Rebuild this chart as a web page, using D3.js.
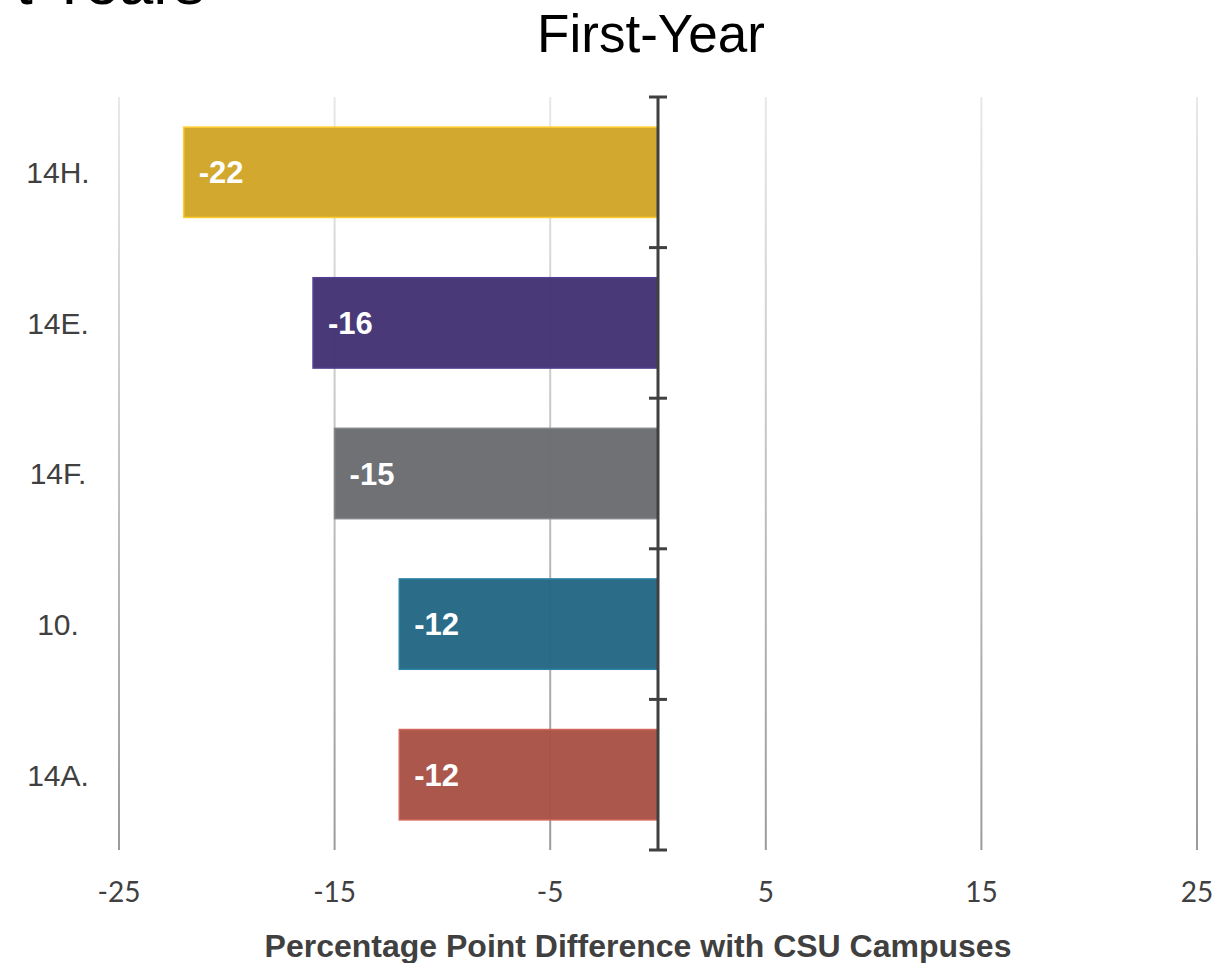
<!DOCTYPE html>
<html>
<head>
<meta charset="utf-8">
<script src="https://cdn.jsdelivr.net/npm/d3@7"></script>
<style>
  html, body { margin: 0; padding: 0; background: #fff; }
  svg { display: block; }
</style>
</head>
<body>
<div id="chart"></div>
<script>
// Data
const categories = ["14H.", "14E.", "14F.", "10.", "14A."];
const values = [-22, -16, -15, -12, -12];
const barColors = ["#D1A527", "#433375", "#6B6C6F", "#246885", "#A85246"];
const xTicks = [-25, -15, -5, 5, 15, 25];

// Configuration
const width = 1217;
const height = 963;
const margin = { top: 97, right: 20, bottom: 113, left: 119 };
const textColor = "#404040";

const svg = d3.select("#chart")
    .append("svg")
    .attr("width", width)
    .attr("height", height)
    .style("font-family", "'Liberation Sans', Arial, sans-serif");

// Gradient for gridlines (lighter at top)
const defs = svg.append("defs");
const grad = defs.append("linearGradient")
    .attr("id", "gridGrad")
    .attr("gradientUnits", "userSpaceOnUse")
    .attr("x1", 0).attr("x2", 0)
    .attr("y1", margin.top).attr("y2", height - margin.bottom);
grad.append("stop").attr("offset", "0%").attr("stop-color", "#e8e8e8");
grad.append("stop").attr("offset", "100%").attr("stop-color", "#9a9a9a");

const x = d3.scaleLinear()
    .domain([-25, 25])
    .range([119, 1197]);

const y = d3.scaleBand()
    .domain(categories)
    .range([margin.top, height - margin.bottom])
    .paddingInner(0.4)
    .paddingOuter(0.2);

// Cut-off slide title at top-left
svg.append("text")
    .attr("x", 205)
    .attr("y", 4)
    .attr("text-anchor", "end")
    .style("font-size", "62px")
    .style("fill", "#000")
    .text("t Years");

// Chart title
svg.append("text")
    .attr("x", 651)
    .attr("y", 52)
    .attr("text-anchor", "middle")
    .style("font-size", "53px")
    .style("fill", "#000")
    .text("First-Year");

// Gridlines
svg.append("g")
    .attr("class", "grid")
    .selectAll("line")
    .data(xTicks)
    .join("line")
    .attr("x1", d => x(d))
    .attr("x2", d => x(d))
    .attr("y1", margin.top)
    .attr("y2", height - margin.bottom)
    .attr("stroke", "url(#gridGrad)")
    .attr("stroke-width", 2);

// X tick labels
svg.append("g")
    .attr("class", "x-labels")
    .selectAll("text")
    .data(xTicks)
    .join("text")
    .attr("x", d => x(d))
    .attr("y", 902)
    .attr("text-anchor", "middle")
    .style("font-family", "Lato, 'Open Sans', sans-serif")
    .style("font-size", "28px")
    .style("fill", textColor)
    .text(d => d);

// Bars
const data = categories.map((c, i) => ({ cat: c, value: values[i], color: barColors[i] }));

svg.append("g")
    .attr("class", "bars")
    .selectAll("rect")
    .data(data)
    .join("rect")
    .attr("x", d => x(Math.min(0, d.value)))
    .attr("y", d => y(d.cat))
    .attr("width", d => Math.abs(x(d.value) - x(0)))
    .attr("height", y.bandwidth())
    .attr("fill", d => d.color)
    .attr("fill-opacity", 0.97)
    .attr("stroke", d => d3.color(d.color).brighter(0.6))
    .attr("stroke-width", 1.5);

// Value labels inside bars
svg.append("g")
    .attr("class", "value-labels")
    .selectAll("text")
    .data(data)
    .join("text")
    .attr("x", d => x(d.value) + 15)
    .attr("y", d => y(d.cat) + y.bandwidth() / 2)
    .attr("dy", "0.36em")
    .style("font-size", "31px")
    .style("font-weight", "bold")
    .style("fill", "#fff")
    .text(d => d.value);

// Category labels
svg.append("g")
    .attr("class", "y-labels")
    .selectAll("text")
    .data(categories)
    .join("text")
    .attr("x", 58)
    .attr("y", d => y(d) + y.bandwidth() / 2)
    .attr("dy", "0.36em")
    .attr("text-anchor", "middle")
    .style("font-size", "30px")
    .style("fill", textColor)
    .text(d => d);

// Zero axis with category boundary ticks
const axisG = svg.append("g").attr("class", "zero-axis");
axisG.append("line")
    .attr("x1", x(0)).attr("x2", x(0))
    .attr("y1", margin.top).attr("y2", height - margin.bottom)
    .attr("stroke", "#404040")
    .attr("stroke-width", 3);

const boundaries = d3.range(categories.length + 1).map(i => margin.top + i * (height - margin.top - margin.bottom) / categories.length);
axisG.selectAll("line.tick")
    .data(boundaries)
    .join("line")
    .attr("class", "tick")
    .attr("x1", x(0) - 9).attr("x2", x(0) + 9)
    .attr("y1", d => d).attr("y2", d => d)
    .attr("stroke", "#404040")
    .attr("stroke-width", 3);

// X axis title
svg.append("text")
    .attr("x", 638)
    .attr("y", 957)
    .attr("text-anchor", "middle")
    .style("font-size", "32px")
    .style("font-weight", "bold")
    .style("fill", textColor)
    .text("Percentage Point Difference with CSU Campuses");
</script>
</body>
</html>
